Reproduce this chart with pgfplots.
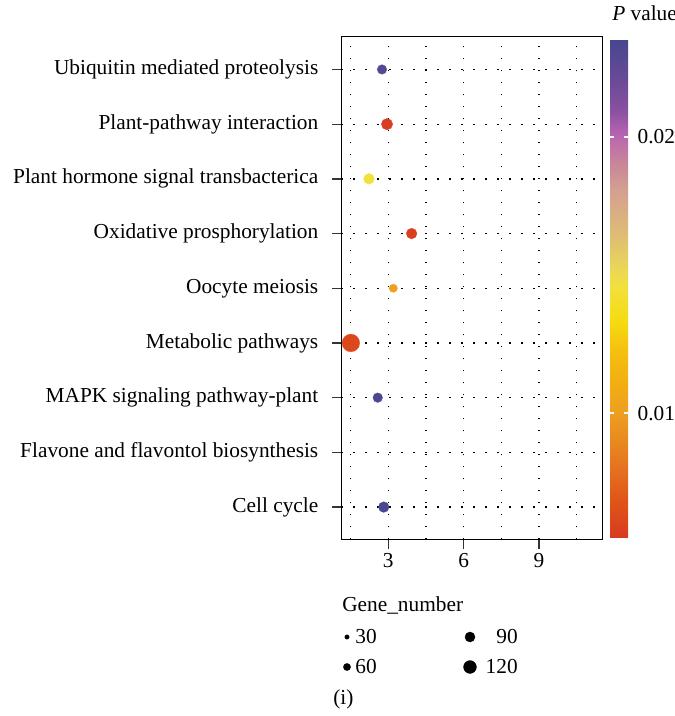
\documentclass[border=0pt]{standalone}
\usepackage{fontspec}
\setmainfont{Liberation Serif}
\usepackage{pgfplots}
\pgfplotsset{compat=1.18}
\usepackage{pgfplotstable}

\pgfplotsset{
  /pgf/number format/assume math mode=true,
  colormap={pval}{
    rgb255(0pt)=(216,58,32)
    rgb255(76pt)=(224,85,24)
    rgb255(136pt)=(229,112,32)
    rgb255(196pt)=(232,138,32)
    rgb255(257pt)=(238,160,32)
    rgb255(317pt)=(242,176,16)
    rgb255(377pt)=(245,192,16)
    rgb255(437pt)=(245,220,16)
    rgb255(507pt)=(242,224,64)
    rgb255(558pt)=(232,208,96)
    rgb255(598pt)=(224,192,112)
    rgb255(648pt)=(218,176,128)
    rgb255(698pt)=(212,160,144)
    rgb255(748pt)=(200,136,152)
    rgb255(789pt)=(192,112,168)
    rgb255(819pt)=(176,96,176)
    rgb255(859pt)=(138,80,160)
    rgb255(919pt)=(106,74,152)
    rgb255(1000pt)=(71,71,143)
  },
}

% x = position, y = category index (1 = Cell cycle ... 9 = Ubiquitin), p = P value, n = gene number
\pgfplotstableread{
x y p n
2.75 9 0.0228 84
2.95 8 0.0056 103
2.23 7 0.0145 96
3.93 6 0.0057 96
3.20 5 0.0102 71
1.51 4 0.0062 170
2.58 3 0.0233 85
2.82 1 0.0234 96
}\pathways

\pgfplotstableread{
x y n
0 1 30
0 0 60
}\legA

\pgfplotstableread{
x y n
1 1 90
1 0 120
}\legB

\newcommand{\lf}{\fontsize{16}{19}\selectfont}

\begin{document}
\begin{tikzpicture}
\useasboundingbox (0,0) rectangle (505.5pt,537pt);
\begin{axis}[
  at={(256pt,132.5pt)}, anchor=south west,
  scale only axis, width=196pt, height=377pt,
  xmin=1.13, xmax=11.54, ymin=0.41, ymax=9.6,
  xtick={3,6,9}, minor xtick={1.5,4.5,7.5,10.5},
  ytick={1,...,9},
  yticklabels={Cell cycle, Flavone and flavontol biosynthesis, MAPK signaling pathway-plant, Metabolic pathways, Oocyte meiosis, Oxidative prosphorylation, Plant hormone signal transbacterica, Plant-pathway interaction, Ubiquitin mediated proteolysis},
  xmajorgrids, xminorgrids, ymajorgrids,
  major grid style={black, line width=1pt, dash pattern=on 1pt off 8pt},
  minor grid style={black, line width=1pt, dash pattern=on 1pt off 8pt},
  tick align=outside, major tick length=7pt, minor tick length=0pt,
  tick style={black!80, line width=1pt},
  xtick pos=bottom, ytick pos=left,
  axis line style={black, line width=1pt},
  every tick label/.append style={font=\lf, text=black},
  yticklabel style={xshift=-6.75pt},
  colormap name=pval,
  point meta min=0.0055, point meta max=0.0235,
  colorbar,
  colorbar shift/.style={xshift=5.5pt},
  colorbar style={
    at={(parent axis.north east)}, anchor=north west,
    yshift=-2.5pt,
    scale only axis, width=13.5pt, height=373.3pt,
    ytick={0.01,0.02}, yticklabels={0.01,0.02},
    scaled y ticks=false,
    axis line style={draw=none},
    tick align=inside, major tick length=3pt,
    ytick style={white, line width=1.2pt},
    ytick pos=both, yticklabel pos=right,
    yticklabel style={font=\lf, text=black, xshift=3.75pt},
    title={\textit{P} value},
    title style={at={(0,1)}, anchor=base west, yshift=8.25pt, xshift=1.5pt, font=\lf, inner sep=0pt},
  },
  clip=false,
]
\addplot[scatter, only marks, mark=*,
  point meta=explicit,
  scatter/use mapped color={draw=mapped color, fill=mapped color},
  visualization depends on={\thisrow{n} \as \gn},
  scatter/@pre marker code/.append style={/tikz/mark size=0.626+0.03525*\gn},
  mark options={line width=0.2pt}]
  table[x=x, y=y, meta=p] {\pathways};
\end{axis}

% size legend
\begin{axis}[
  at={(214.125pt,25.5pt)}, anchor=south west,
  scale only axis, width=184.5pt, height=45pt,
  xmin=-0.5, xmax=1.5, ymin=-0.5, ymax=1.5,
  axis lines=none, clip=false,
  point meta min=0, point meta max=200,
]
% dots
\addplot[scatter, only marks, mark=*,
  point meta=\thisrow{n},
  scatter/use mapped color={draw=black, fill=black},
  visualization depends on={\thisrow{n} \as \gn},
  scatter/@pre marker code/.append style={/tikz/mark size=0.626+0.03525*\gn},
  mark options={line width=0.2pt}]
  table[x=x, y=y] {\legA};
\addplot[scatter, only marks, mark=*,
  point meta=\thisrow{n},
  scatter/use mapped color={draw=black, fill=black},
  visualization depends on={\thisrow{n} \as \gn},
  scatter/@pre marker code/.append style={/tikz/mark size=0.626+0.03525*\gn},
  mark options={line width=0.2pt}]
  table[x=x, y=y] {\legB};
% labels
\addplot[only marks, mark=none, point meta=\thisrow{n},
  nodes near coords={\pgfmathprintnumber{\pgfplotspointmeta}},
  nodes near coords style={anchor=east, inner sep=0pt, xshift=22.5pt, font=\lf, text=black}]
  table[x=x, y=y] {\legA};
\addplot[only marks, mark=none, point meta=\thisrow{n},
  nodes near coords={\pgfmathprintnumber{\pgfplotspointmeta}},
  nodes near coords style={anchor=east, inner sep=0pt, xshift=36pt, font=\lf, text=black}]
  table[x=x, y=y] {\legB};
\end{axis}

\node[anchor=base west, inner sep=0pt, font=\lf] at (256.5pt,78pt) {Gene\_number};
\node[anchor=base west, inner sep=0pt, font=\lf] at (249.75pt,8.5pt) {(i)};
\end{tikzpicture}
\end{document}
